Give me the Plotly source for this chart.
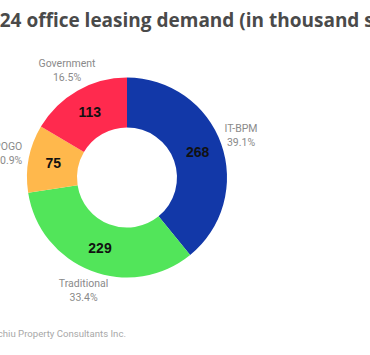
import math
import plotly.graph_objects as go

categories = ["IT-BPM", "Traditional", "POGO", "Government"]
values = [268, 229, 75, 113]
colors = ["#1238A8", "#52E55A", "#FFB84C", "#FF2A4E"]
title_text = "2024 office leasing demand (in thousand sqm)"
source_text = "Source: Leechiu Property Consultants Inc."

W, H = 370, 355
cx, cy, r = 127, 177.5, 100
dom_x = [(cx - r) / W, (cx + r) / W]
dom_y = [(H - cy - r) / H, (H - cy + r) / H]

total = sum(values)
lab_x, lab_y, lab_t = [], [], []
acc = 0
for c, v in zip(categories, values):
    mid = (acc + v / 2) / total * 2 * math.pi
    acc += v
    lab_x.append(cx + 1.21 * r * math.sin(mid))
    lab_y.append(cy - 1.22 * r * math.cos(mid))
    lab_t.append(f"{c}<br>{v / total * 100:.1f}%")

fig = go.Figure()
fig.add_trace(go.Pie(
    labels=categories, values=values, sort=False, direction="clockwise",
    rotation=0, hole=0.5,
    marker=dict(colors=colors, line=dict(width=0)),
    texttemplate="%{value}", textposition="inside",
    insidetextorientation="horizontal",
    insidetextfont=dict(family="Liberation Sans", size=14, color="#111111", weight="bold"),
    domain=dict(x=dom_x, y=dom_y), showlegend=False, hoverinfo="label+value+percent",
))
fig.add_trace(go.Scatter(
    x=lab_x, y=lab_y, text=lab_t, mode="text", textposition="middle center",
    textfont=dict(family="Roboto", size=10.5, color="#8a8a8a"),
    showlegend=False, hoverinfo="skip", cliponaxis=False,
))

fig.update_layout(
    width=W, height=H,
    margin=dict(l=0, r=0, t=0, b=0),
    paper_bgcolor="white", plot_bgcolor="rgba(0,0,0,0)",
    xaxis=dict(range=[0, W], visible=False),
    yaxis=dict(range=[H, 0], visible=False),
    annotations=[
        dict(text="<b>" + title_text + "</b>", x=-24 / W, y=(H - 20) / H,
             xref="paper", yref="paper", xanchor="left", yanchor="middle",
             showarrow=False,
             font=dict(family="Open Sans", size=19, color="#4a4a4a")),
        dict(text=source_text, x=128 / W, y=(H - 333) / H,
             xref="paper", yref="paper", xanchor="right", yanchor="middle",
             showarrow=False,
             font=dict(family="Roboto", size=9.6, color="#a8a8a8")),
    ],
)
fig.write_html("out.html", config={"displayModeBar": False},
               post_script="document.body.style.margin='0px';document.body.style.overflow='hidden';")
